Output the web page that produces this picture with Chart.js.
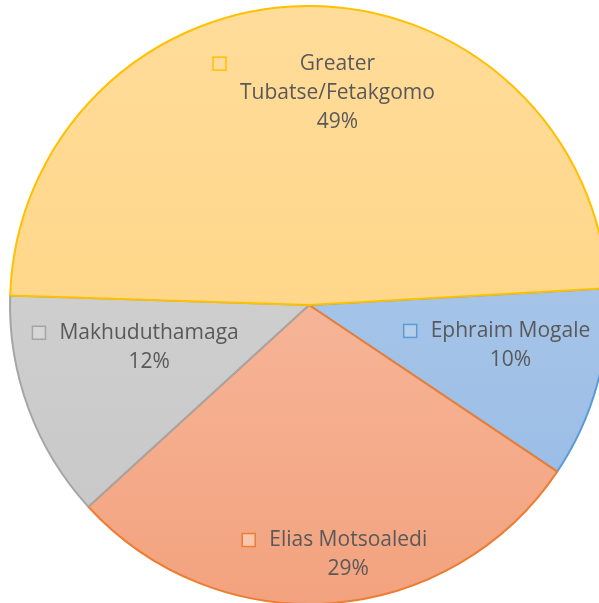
<!DOCTYPE html>
<html>
<head>
<meta charset="utf-8">
<script src="https://cdn.jsdelivr.net/npm/chart.js@4/dist/chart.umd.min.js"></script>
<style>
  html, body { margin: 0; padding: 0; background: #fff; overflow: hidden; }
  body { width: 599px; height: 603px; position: relative; }
  #wrap { position: absolute; left: -1px; top: 5px; width: 620px; height: 600px; }
</style>
</head>
<body>
<div id="wrap"><canvas id="pie-chart"></canvas></div>
<script>
// municipalities, clockwise from the 3 o'clock edge
const labels = ["Ephraim Mogale", "Elias Motsoaledi", "Makhuduthamaga", "Greater Tubatse/Fetakgomo"];
const labelLines = [["Ephraim Mogale"], ["Elias Motsoaledi"], ["Makhuduthamaga"], ["Greater", "Tubatse/Fetakgomo"]];
const shares = [10.3, 28.8, 12.3, 48.6];

const edgeColors = ["#5B9BD5", "#ED7D31", "#A5A5A5", "#FFC000"];
const topColors = ["#B4CEEC", "#F9C7B0", "#D6D6D6", "#FFDC9A"];
const bottomColors = ["#95B9E4", "#F3A27E", "#C6C6C6", "#FFD27A"];

function sliceFill(ctx) {
    const chart = ctx.chart;
    const area = chart.chartArea;
    if (!area) return topColors[ctx.dataIndex];
    const g = chart.ctx.createLinearGradient(0, area.top, 0, area.bottom);
    g.addColorStop(0, topColors[ctx.dataIndex]);
    g.addColorStop(1, bottomColors[ctx.dataIndex]);
    return g;
}

const sliceLabels = {
    id: 'sliceLabels',
    afterDatasetsDraw(chart, args, opts) {
        const ctx = chart.ctx;
        const meta = chart.getDatasetMeta(0);
        const total = shares.reduce((a, b) => a + b, 0);
        ctx.save();
        ctx.font = opts.font;
        ctx.textBaseline = 'middle';
        ctx.textAlign = 'center';
        meta.data.forEach((arc, i) => {
            const p = arc.getProps(['x', 'y', 'startAngle', 'endAngle', 'outerRadius'], true);
            const place = opts.place[i];
            const mid = (p.startAngle + p.endAngle) / 2 + place.da * Math.PI / 180;
            const cx = p.x + Math.cos(mid) * p.outerRadius * place.f;
            const cy = p.y + Math.sin(mid) * p.outerRadius * place.f;
            const lines = labelLines[i].concat([Math.round(shares[i] / total * 100) + '%']);
            let maxW = 0;
            lines.forEach(t => { maxW = Math.max(maxW, ctx.measureText(t).width); });
            const key = 13, gap = 14, lh = opts.lineHeight;
            const blockW = key + gap + maxW;
            const left = cx - blockW / 2;
            const textX = left + key + gap + maxW / 2;
            const firstY = cy - (lines.length - 1) * lh / 2;
            ctx.fillStyle = opts.color;
            lines.forEach((t, k) => ctx.fillText(t, textX, firstY + k * lh));
            ctx.fillStyle = topColors[i];
            ctx.fillRect(left, firstY - key / 2, key, key);
            ctx.strokeStyle = edgeColors[i];
            ctx.lineWidth = 1.5;
            ctx.strokeRect(left, firstY - key / 2, key, key);
        });
        ctx.restore();
    }
};

new Chart(document.getElementById("pie-chart"), {
    type: 'pie',
    data: {
        labels: labels,
        datasets: [{
            data: shares,
            backgroundColor: sliceFill,
            borderColor: edgeColors,
            borderWidth: 2
        }]
    },
    options: {
        responsive: true,
        maintainAspectRatio: false,
        animation: false,
        rotation: 86.8,
        layout: { padding: 0 },
        plugins: {
            legend: { display: false },
            tooltip: { enabled: false },
            sliceLabels: {
                font: '21px "Open Sans"',
                color: '#595959',
                lineHeight: 29,
                place: [
                    { f: 0.643, da: -3.2 },
                    { f: 0.839, da: -1.6 },
                    { f: 0.597, da: 6.6 },
                    { f: 0.712, da: 4.7 }
                ]
            }
        }
    },
    plugins: [sliceLabels]
});
</script>
</body>
</html>
